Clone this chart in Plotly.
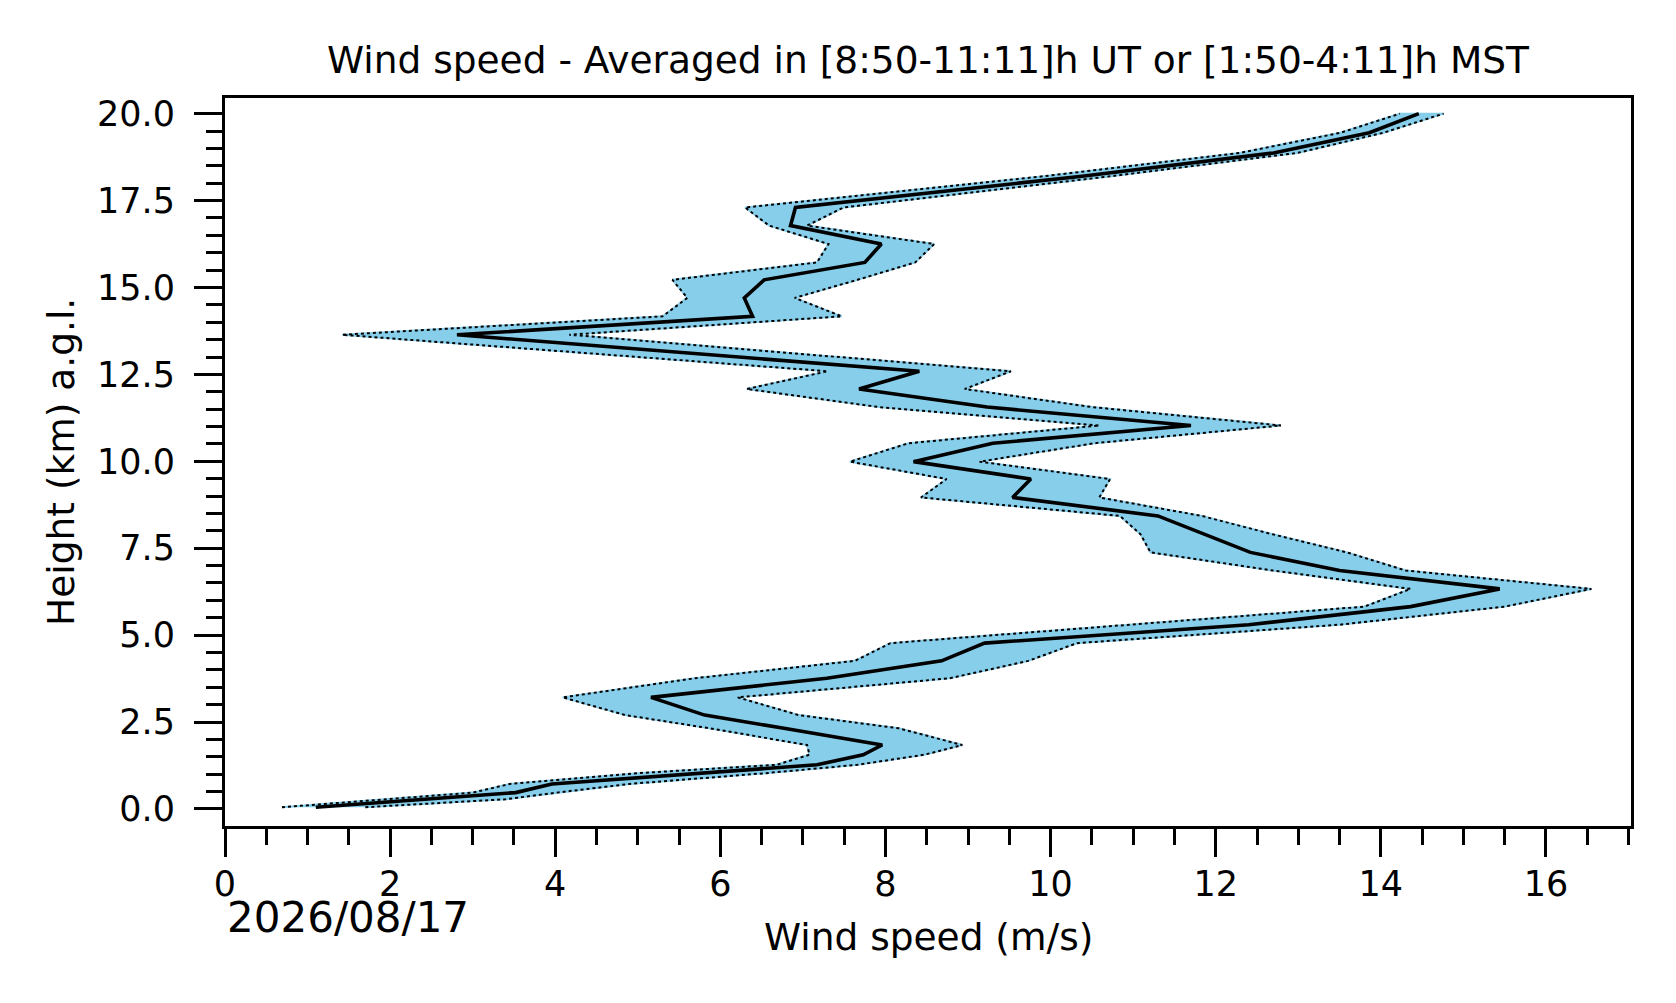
import plotly.graph_objects as go

# heights (km a.g.l.) and wind speed profile (m/s): mean and band edges
height = [0.05, 0.28, 0.47, 0.72, 1.03, 1.27, 1.56, 1.84, 2.32, 2.70, 3.21, 3.76,
          4.26, 4.77, 5.30, 5.82, 6.33, 6.86, 7.38, 7.90, 8.43, 8.96, 9.49, 9.99,
          10.52, 11.03, 11.56, 12.08, 12.59, 13.64, 14.17, 14.70, 15.22, 15.72,
          16.25, 16.78, 17.30, 18.20, 18.87, 19.45, 20.00]
ws_mean = [1.10, 2.50, 3.52, 3.96, 5.75, 7.17, 7.73, 7.96, 6.77, 5.81, 5.16, 7.29,
           8.68, 9.20, 12.40, 14.36, 15.44, 13.50, 12.42, 11.86, 11.30, 9.54, 9.76, 8.34,
           9.30, 11.70, 9.23, 7.68, 8.41, 2.81, 6.39, 6.29, 6.53, 7.75,
           7.95, 6.85, 6.91, 10.38, 12.70, 13.86, 14.46]
ws_low = [0.69, 2.00, 3.00, 3.45, 5.00, 6.68, 7.08, 7.05, 5.87, 4.85, 4.09, 5.69,
          7.63, 8.06, 11.00, 13.80, 14.36, 12.69, 11.21, 11.09, 10.84, 8.43, 8.74, 7.57,
          8.28, 10.59, 7.92, 6.32, 7.30, 1.42, 5.30, 5.60, 5.42, 7.17,
          7.31, 6.59, 6.30, 9.92, 12.29, 13.51, 14.23]
ws_high = [1.70, 3.40, 4.02, 4.90, 6.55, 7.66, 8.47, 8.93, 8.16, 6.95, 6.21, 8.78,
           9.73, 10.32, 13.50, 15.50, 16.55, 14.30, 13.59, 12.69, 11.83, 10.59, 10.72, 9.14,
           10.53, 12.79, 10.50, 8.96, 9.52, 4.17, 7.47, 6.90, 7.66, 8.36,
           8.59, 7.05, 7.49, 10.73, 12.99, 14.03, 14.76]

title = 'Wind speed - Averaged in [8:50-11:11]h UT or [1:50-4:11]h MST'
date_label = '2026/08/17'

FONT = 'DejaVu Sans'
PAD = 8  # page body margin
W, H = 1676 - PAD, 1003 - PAD
L, R, T, B = 225 - PAD, 45, 98 - PAD, 177
plot_h = H - T - B

fig = go.Figure()

# shaded spread
fig.add_trace(go.Scatter(
    x=ws_low + ws_high[::-1], y=height + height[::-1],
    fill='toself', fillcolor='#87CEEB', mode='lines',
    line=dict(color='#87CEEB', width=2), hoverinfo='skip', showlegend=False))

# dotted edges
for edge in (ws_low, ws_high):
    fig.add_trace(go.Scatter(x=edge, y=height, mode='lines',
                             line=dict(color='black', width=2, dash='dot'),
                             showlegend=False))

# mean profile
fig.add_trace(go.Scatter(x=ws_mean, y=height, mode='lines',
                         line=dict(color='black', width=3.6), showlegend=False))

axis_common = dict(
    showline=True, linecolor='black', linewidth=3, mirror=True,
    ticks='outside', ticklen=28, tickwidth=3, tickcolor='black',
    showgrid=False, zeroline=False,
    tickfont=dict(family=FONT, size=35, color='black'),
)

fig.update_xaxes(range=[0, 17.03], tick0=0, dtick=2, ticklabelstandoff=-3,
                 minor=dict(ticks='outside', dtick=0.5, ticklen=16, tickwidth=3,
                            tickcolor='black'),
                 **axis_common)
fig.update_yaxes(range=[-0.49, 20.45], tick0=0, dtick=2.5, tickformat='.1f',
                 ticklabelstandoff=12,
                 minor=dict(ticks='outside', dtick=0.5, ticklen=16, tickwidth=3,
                            tickcolor='black'),
                 **axis_common)

fig.update_layout(
    width=W, height=H,
    margin=dict(l=L, r=R, t=T, b=B),
    paper_bgcolor='white', plot_bgcolor='white',
    font=dict(family=FONT, color='black'),
    title=dict(text=title, x=0.5, xref='paper', xanchor='center',
               y=1 - (60 - PAD) / H, yref='container', yanchor='middle',
               font=dict(family=FONT, size=37.5, color='black')),
    annotations=[
        dict(text='Wind speed (m/s)', xref='paper', yref='paper',
             x=0.5, y=-(937 - PAD - (T + plot_h)) / plot_h, xanchor='center',
             yanchor='middle', showarrow=False,
             font=dict(family=FONT, size=37.5, color='black')),
        dict(text='Height (km) a.g.l.', xref='paper', yref='paper',
             x=(61 - 225) / (W - L - R), y=0.5, xanchor='center', yanchor='middle',
             textangle=-90, showarrow=False,
             font=dict(family=FONT, size=37.5, color='black')),
        dict(text=date_label, xref='paper', yref='paper',
             x=0, y=-(917 - PAD - (T + plot_h)) / plot_h, xanchor='left',
             yanchor='middle', showarrow=False,
             font=dict(family=FONT, size=42, color='black')),
    ],
)

fig.write_html('out.html')
